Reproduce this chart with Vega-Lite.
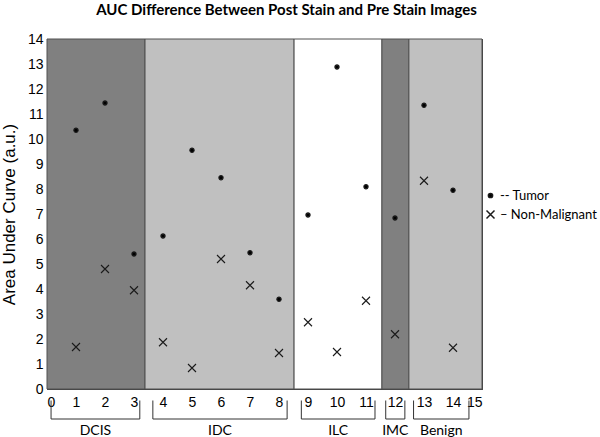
{
  "$schema": "https://vega.github.io/schema/vega-lite/v6.json",
  "width": 435,
  "height": 350,
  "autosize": "none",
  "padding": {"left": 47, "top": 39, "right": 118, "bottom": 48},
  "background": "white",
  "title": {
    "text": "AUC Difference Between Post Stain and Pre Stain Images",
    "font": "Lato",
    "fontSize": 15,
    "fontWeight": "bold",
    "color": "#000000",
    "anchor": "middle",
    "dx": 22,
    "offset": 14
  },
  "config": {
    "view": {"stroke": "#404040", "strokeWidth": 1},
    "axis": {"grid": false, "domain": false, "labelFont": "Liberation Sans", "labelColor": "#000000", "tickColor": "#404040", "labelOverlap": false}
  },
  "resolve": {"axis": {"x": "independent", "y": "independent"}},
  "datasets": {
    "regions": [
      {"group": "DCIS", "start": 0, "end": 3.38, "shade": "dark"},
      {"group": "IDC", "start": 3.38, "end": 8.52, "shade": "light"},
      {"group": "ILC", "start": 8.52, "end": 11.55, "shade": "white"},
      {"group": "IMC", "start": 11.55, "end": 12.48, "shade": "dark"},
      {"group": "Benign", "start": 12.48, "end": 15, "shade": "light"}
    ],
    "brackets": [
      {"group": "DCIS", "start": 0.14, "end": 3.2},
      {"group": "IDC", "start": 3.65, "end": 8.28},
      {"group": "ILC", "start": 8.77, "end": 11.31},
      {"group": "IMC", "start": 11.68, "end": 12.34},
      {"group": "Benign", "start": 12.64, "end": 14.55}
    ],
    "points": [
      {"sample": 1, "type": "Tumor", "auc": 10.35},
      {"sample": 2, "type": "Tumor", "auc": 11.44},
      {"sample": 3, "type": "Tumor", "auc": 5.4},
      {"sample": 4, "type": "Tumor", "auc": 6.12},
      {"sample": 5, "type": "Tumor", "auc": 9.55},
      {"sample": 6, "type": "Tumor", "auc": 8.45},
      {"sample": 7, "type": "Tumor", "auc": 5.45},
      {"sample": 8, "type": "Tumor", "auc": 3.59},
      {"sample": 9, "type": "Tumor", "auc": 6.96},
      {"sample": 10, "type": "Tumor", "auc": 12.88},
      {"sample": 11, "type": "Tumor", "auc": 8.09},
      {"sample": 12, "type": "Tumor", "auc": 6.84},
      {"sample": 13, "type": "Tumor", "auc": 11.35},
      {"sample": 14, "type": "Tumor", "auc": 7.95},
      {"sample": 1, "type": "Non-Malignant", "auc": 1.68},
      {"sample": 2, "type": "Non-Malignant", "auc": 4.8},
      {"sample": 3, "type": "Non-Malignant", "auc": 3.95},
      {"sample": 4, "type": "Non-Malignant", "auc": 1.87},
      {"sample": 5, "type": "Non-Malignant", "auc": 0.84},
      {"sample": 6, "type": "Non-Malignant", "auc": 5.2},
      {"sample": 7, "type": "Non-Malignant", "auc": 4.15},
      {"sample": 8, "type": "Non-Malignant", "auc": 1.44},
      {"sample": 9, "type": "Non-Malignant", "auc": 2.67},
      {"sample": 10, "type": "Non-Malignant", "auc": 1.48},
      {"sample": 11, "type": "Non-Malignant", "auc": 3.53},
      {"sample": 12, "type": "Non-Malignant", "auc": 2.19},
      {"sample": 13, "type": "Non-Malignant", "auc": 8.33},
      {"sample": 14, "type": "Non-Malignant", "auc": 1.65}
    ]
  },
  "layer": [
    {
      "data": {"name": "regions"},
      "mark": {"type": "rect", "stroke": "#505050", "strokeWidth": 1},
      "encoding": {
        "x": {"field": "start", "type": "quantitative",
          "scale": {"domain": [0, 15], "nice": false, "zero": false},
          "axis": {"orient": "bottom", "values": [0,1,2,3,4,5,6,7,8,9,10,11,12,13,14,15], "title": null, "labelFontSize": 14, "labelOverlap": false, "tickSize": -4, "labelPadding": 10}},
        "x2": {"field": "end"},
        "fill": {"field": "shade", "type": "nominal", "legend": null,
          "scale": {"domain": ["dark", "light", "white"], "range": ["#808080", "#c0c0c0", "#ffffff"]}}
      }
    },
    {
      "mark": {"type": "rule", "color": "#000000", "strokeWidth": 1.5},
      "encoding": {
        "y": {"datum": 5.63, "type": "quantitative",
          "scale": {"domain": [0, 14], "nice": false, "zero": false},
          "axis": {"orient": "left", "values": [0,1,2,3,4,5,6,7,8,9,10,11,12,13,14], "title": "Area Under Curve (a.u.)", "titleFont": "Liberation Sans", "titleFontSize": 17, "titleFontWeight": "normal", "titleColor": "#000000", "titlePadding": 9, "labelFontSize": 14, "labelOverlap": false, "tickSize": -4, "labelPadding": 8}}
      }
    },
    {
      "data": {"name": "points"},
      "mark": {"type": "point", "opacity": 1, "strokeWidth": 1.1, "filled": true, "fill": "#000000", "stroke": "#1a1a1a"},
      "encoding": {
        "x": {"field": "sample", "type": "quantitative",
          "axis": {"orient": "top", "values": [0,1,2,3,4,5,6,7,8,9,10,11,12,13,14,15], "labels": false, "title": null, "tickSize": -4}},
        "y": {"field": "auc", "type": "quantitative",
          "axis": {"orient": "right", "values": [0,1,2,3,4,5,6,7,8,9,10,11,12,13,14], "labels": false, "title": null, "tickSize": -4}},
        "shape": {"field": "type", "type": "nominal",
          "scale": {"domain": ["Tumor", "Non-Malignant"], "range": ["circle", "M-1,-1L1,1M1,-1L-1,1"]},
          "legend": {"orient": "none", "legendX": 437, "legendY": 150, "title": null,
            "labelFont": "Lato", "labelFontSize": 13, "labelColor": "#000000",
            "symbolFillColor": "#000000", "symbolStrokeColor": "#1a1a1a",
            "labelExpr": "datum.label == 'Tumor' ? '-- Tumor' : '– Non-Malignant'",
            "rowPadding": 4, "labelOffset": 3}},
        "size": {"field": "type", "type": "nominal",
          "scale": {"domain": ["Tumor", "Non-Malignant"], "range": [18, 64]}}
      }
    },
    {
      "data": {"name": "brackets"},
      "mark": {"type": "rule", "color": "#333333", "strokeWidth": 1},
      "encoding": {
        "x": {"field": "start", "type": "quantitative", "axis": null},
        "x2": {"field": "end"},
        "y": {"datum": -1.2, "type": "quantitative", "axis": null}
      }
    },
    {
      "data": {"name": "brackets"},
      "mark": {"type": "rule", "color": "#333333", "strokeWidth": 1},
      "encoding": {
        "x": {"field": "start", "type": "quantitative", "axis": null},
        "y": {"datum": -0.46, "type": "quantitative", "axis": null},
        "y2": {"datum": -1.2}
      }
    },
    {
      "data": {"name": "brackets"},
      "mark": {"type": "rule", "color": "#333333", "strokeWidth": 1},
      "encoding": {
        "x": {"field": "end", "type": "quantitative", "axis": null},
        "y": {"datum": -0.46, "type": "quantitative", "axis": null},
        "y2": {"datum": -1.2}
      }
    },
    {
      "data": {"name": "brackets"},
      "transform": [{"calculate": "(datum.start + datum.end) / 2", "as": "mid"}],
      "mark": {"type": "text", "font": "Lato", "fontSize": 14, "color": "#000000", "baseline": "middle", "align": "center"},
      "encoding": {
        "x": {"field": "mid", "type": "quantitative", "axis": null},
        "y": {"datum": -1.66, "type": "quantitative", "axis": null},
        "text": {"field": "group"}
      }
    }
  ]
}
